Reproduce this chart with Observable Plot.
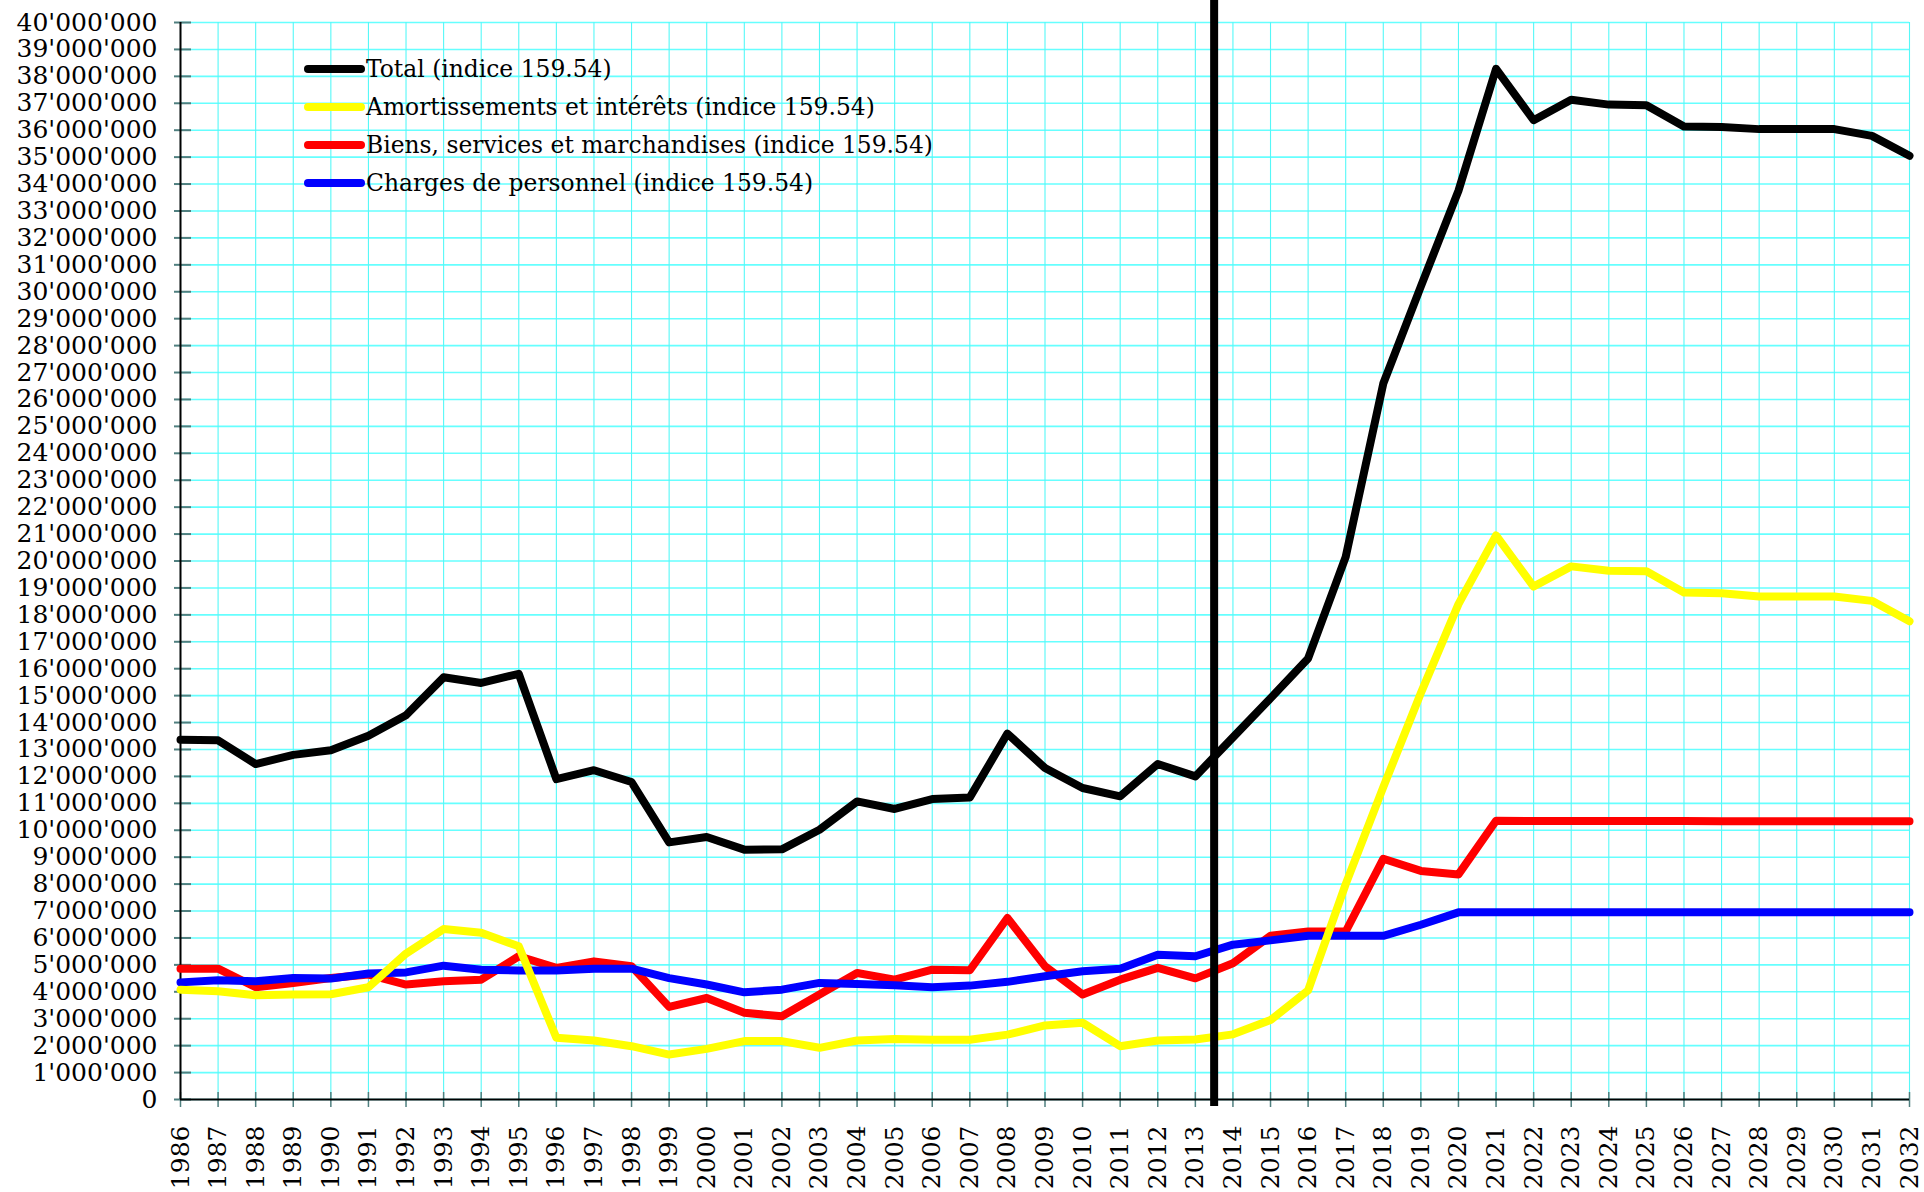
<!DOCTYPE html>
<html><head><meta charset="utf-8">
<script src="https://cdn.jsdelivr.net/npm/d3@7"></script>
<script src="https://cdn.jsdelivr.net/npm/@observablehq/plot@0.6"></script>
<style>
body{margin:0;background:#fff;}
#wrap{position:relative;width:1924px;height:1192px;overflow:hidden;}
#legend{position:absolute;left:0;top:0;font-family:"DejaVu Serif";font-size:23.4px;color:#000;}
.row{position:absolute;display:flex;align-items:center;white-space:nowrap;height:30px;}
.row svg{display:block;}
</style></head><body><div id="wrap"><div id="chart"></div><div id="legend"></div></div>
<script>
// Values in millions
const years = d3.range(1986, 2033);
const total = [13.36,13.34,12.46,12.80,12.97,13.51,14.27,15.68,15.47,15.81,11.90,12.23,11.79,9.55,9.75,9.28,9.29,10.02,11.07,10.79,11.16,11.22,13.59,12.31,11.57,11.26,12.46,12.00,13.45,14.90,16.38,20.15,26.59,30.20,33.75,38.28,36.37,37.13,36.95,36.93,36.14,36.12,36.04,36.04,36.04,35.79,35.05];
const amort = [4.08,4.02,3.87,3.90,3.91,4.17,5.42,6.33,6.19,5.69,2.29,2.19,1.98,1.67,1.88,2.17,2.17,1.92,2.19,2.25,2.22,2.22,2.41,2.75,2.85,1.98,2.19,2.23,2.42,2.95,4.05,8.00,11.60,15.10,18.40,20.95,19.05,19.80,19.64,19.62,18.83,18.80,18.68,18.68,18.68,18.52,17.76];
const biens = [4.86,4.86,4.17,4.33,4.51,4.64,4.27,4.39,4.45,5.32,4.89,5.13,4.95,3.44,3.77,3.22,3.09,3.90,4.70,4.45,4.82,4.80,6.74,4.95,3.90,4.45,4.89,4.50,5.06,6.08,6.24,6.24,8.94,8.49,8.36,10.35,10.34,10.34,10.34,10.34,10.34,10.33,10.33,10.33,10.33,10.33,10.33];
const personnel = [4.35,4.43,4.39,4.51,4.49,4.68,4.72,4.97,4.82,4.79,4.79,4.86,4.86,4.51,4.27,3.98,4.08,4.33,4.29,4.24,4.17,4.23,4.37,4.58,4.76,4.86,5.38,5.32,5.75,5.91,6.08,6.08,6.08,6.49,6.95,6.95,6.95,6.95,6.95,6.95,6.95,6.95,6.95,6.95,6.95,6.95,6.95];
const yTicks = d3.range(0, 41);
const dividerYear = 2013.5;
const seriesNames = ["Total (indice 159.54)","Amortissements et intérêts (indice 159.54)","Biens, services et marchandises (indice 159.54)","Charges de personnel (indice 159.54)"];
const seriesColors = ["#000000","#ffff00","#ff0000","#0000ff"];

const fmt = d3.formatLocale({decimal:".", thousands:"'", grouping:[3], currency:["",""]}).format(",d");
const rows = years.map((y,i)=>({year:y, total:total[i], amort:amort[i], biens:biens[i], perso:personnel[i]}));

const chart = Plot.plot({
  width:1924, height:1192, marginTop:22, marginLeft:180, marginRight:15, marginBottom:93,
  style:{fontFamily:"DejaVu Serif", fontSize:"25px", color:"#000", background:"#fff", overflow:"visible"},
  x:{domain:[1986,2032]},
  y:{domain:[0,40]},
  marks:[
    Plot.gridY(yTicks,{stroke:"#66ffff", strokeOpacity:1, strokeWidth:1.6}),
    Plot.gridX(years,{stroke:"#55f8f8", strokeOpacity:1, strokeWidth:1.1}),
    Plot.axisY(yTicks,{tickFormat:d=>fmt(d*1e6), tickSize:17, dx:11, tickPadding:17, stroke:"#4f7f7f", strokeWidth:2, label:null, fontSize:25}),
    Plot.axisX(years,{tickFormat:d=>String(d), tickRotate:-90, tickSize:15, dy:-7, tickPadding:18, label:null, stroke:"#4f7f7f", strokeWidth:1.5, fontSize:25}),
    Plot.ruleX([1986],{stroke:"#000", strokeWidth:2}),
    Plot.ruleY([0],{stroke:"#000", strokeWidth:2}),
    Plot.lineY(rows,{x:"year", y:"biens", stroke:seriesColors[2], strokeWidth:8}),
    Plot.lineY(rows,{x:"year", y:"perso", stroke:seriesColors[3], strokeWidth:8}),
    Plot.lineY(rows,{x:"year", y:"amort", stroke:seriesColors[1], strokeWidth:8}),
    Plot.lineY(rows,{x:"year", y:"total", stroke:seriesColors[0], strokeWidth:8}),
    Plot.ruleX([dividerYear],{stroke:"#000", strokeWidth:8, insetTop:-22, insetBottom:-7, strokeLinecap:"butt"})
  ]
});
document.getElementById("chart").appendChild(chart);

const legend = document.getElementById("legend");
seriesNames.forEach((name,i)=>{
  const row = document.createElement("div");
  row.className = "row";
  row.style.left = "303px";
  row.style.top = (54 + i*38) + "px";
  row.innerHTML = `<svg width="63" height="16"><line x1="5" y1="8" x2="58" y2="8" stroke="${seriesColors[i]}" stroke-width="8" stroke-linecap="round"/></svg><span>${name}</span>`;
  legend.appendChild(row);
});
</script>
</body></html>
